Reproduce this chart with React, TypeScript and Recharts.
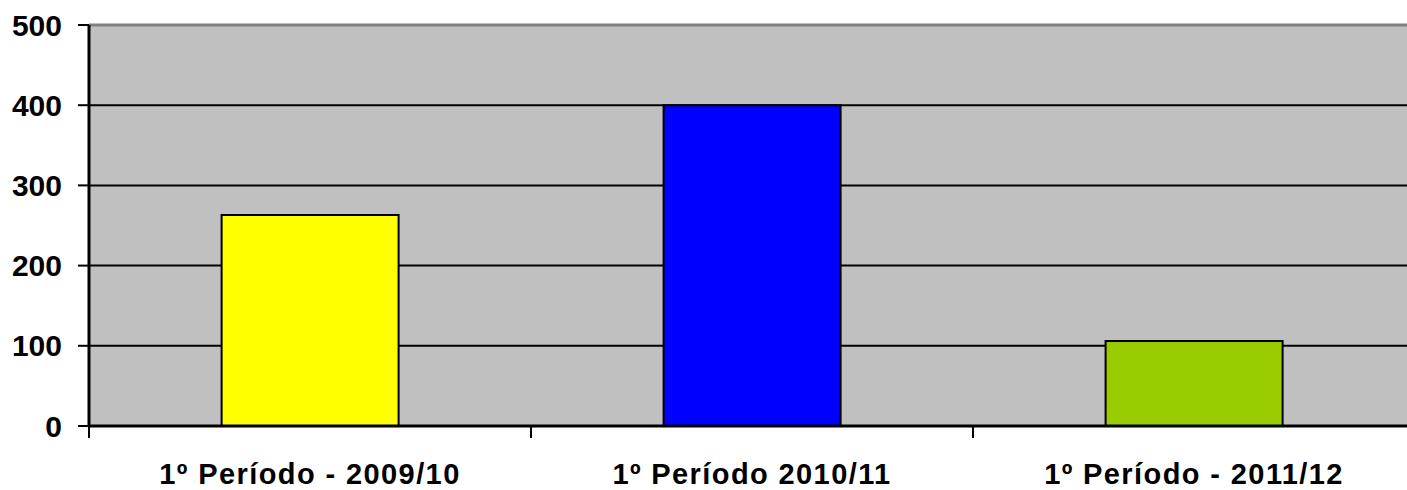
import { BarChart, Bar, XAxis, YAxis, CartesianGrid, ReferenceLine, Cell } from "recharts";

const periods = ["1º Período - 2009/10", "1º Período 2010/11", "1º Período - 2011/12"];
const totals = [263, 400, 106];
const barColors = ["#ffff00", "#0000ff", "#99cc00"];
const yTicks = [0, 100, 200, 300, 400, 500];

const data = periods.map((name, i) => ({ name, total: totals[i] }));

const font = { fontFamily: "'Liberation Sans', Arial, sans-serif", fontWeight: 700, fill: "#000" };
const LABEL_GAP = 37;

// category label plus a tick mark on the left edge of its band
function PeriodTick(props: any) {
  const { x, y, payload, width, visibleTicksCount } = props;
  const band = width / visibleTicksCount;
  const edge = x - band / 2;
  return (
    <g>
      <line x1={edge} x2={edge} y1={y - LABEL_GAP} y2={y - LABEL_GAP + 12} stroke="#000" strokeWidth={2} />
      <text x={x} y={y} dy="0.71em" textAnchor="middle" {...font} fontSize={29} letterSpacing={1.4}>
        {payload.value}
      </text>
    </g>
  );
}

export default function App() {
  return (
    <div style={{ position: "absolute", left: 0, top: 0, width: 1407, height: 490, overflow: "hidden" }}>
      <BarChart
        width={1415}
        height={490}
        data={data}
        margin={{ top: 25, right: 0, left: 0, bottom: 0 }}
        barCategoryGap="30%"
      >
        <CartesianGrid
          vertical={false}
          horizontalValues={[100, 200, 300, 400]}
          stroke="#000"
          strokeWidth={2}
          fill="#c0c0c0"
        />
        <ReferenceLine y={500} stroke="#808080" strokeWidth={3} />
        <XAxis
          dataKey="name"
          height={64}
          stroke="#000"
          strokeWidth={3}
          tickLine={false}
          tickSize={0}
          tickMargin={LABEL_GAP}
          interval={0}
          tick={<PeriodTick />}
        />
        <YAxis
          width={89}
          domain={[0, 500]}
          ticks={yTicks}
          tickSize={11}
          tickMargin={16}
          stroke="#000"
          strokeWidth={3}
          tickLine={{ stroke: "#000", strokeWidth: 2 }}
          tick={{ ...font, fontSize: 30 }}
        />
        <Bar dataKey="total" stroke="#000" strokeWidth={2} isAnimationActive={false}>
          {data.map((d, i) => (
            <Cell key={d.name} fill={barColors[i]} />
          ))}
        </Bar>
      </BarChart>
    </div>
  );
}
